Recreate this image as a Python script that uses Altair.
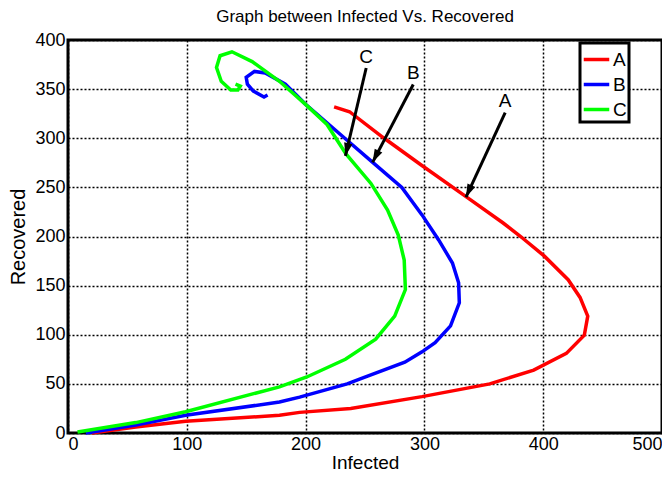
import math
import altair as alt
import pandas as pd

# ---- data ----
series_names = ["A", "B", "C"]

A_x = [20, 57, 99, 178, 195, 238, 298, 355, 392, 419.5, 434.6, 437.5, 431, 421, 401, 381, 366, 338, 297, 265, 237, 224]
A_y = [0, 6, 12, 18, 21, 25, 37, 50, 64, 81, 99.5, 119, 138, 156, 180, 200, 214, 238, 273, 301, 327, 332]

B_x = [15, 57, 99, 178, 195, 235, 246, 283.5, 298, 309, 322, 329.4, 328.8, 323.6, 312, 298, 281, 256, 232, 200, 183, 166, 157, 150, 151, 156, 165, 168]
B_y = [0, 8, 18, 31.5, 36.5, 50, 55, 72, 82.6, 92, 109, 132.5, 153, 173, 196.5, 222, 250, 276, 301, 334.5, 355, 366.5, 368, 362, 355, 348, 342, 344]

C_x = [8, 57, 99, 178, 201, 233.5, 259, 275, 284, 283, 278, 269, 255, 234, 218, 200, 178, 155, 138, 128, 125, 129, 137, 143, 145, 141]
C_y = [1, 10.6, 21.7, 47, 57, 75, 95.5, 119, 146, 176, 201.5, 227, 254, 284, 314, 334.5, 358, 378, 388, 384, 372, 358, 349, 349, 353, 355]

# arrows: label, start (x, y), tip (x, y), label position
arrow_labels = ["A", "B", "C"]
arrow_x1 = [368, 290.6, 251]
arrow_y1 = [326, 354.7, 371.5]
arrow_x2 = [335, 256.4, 233.5]
arrow_y2 = [240, 275.5, 282]
label_x = [368, 290.6, 251]
label_y = [338, 366.5, 383]

colors = ["#FF0000", "#0000FF", "#00FF00"]

XMAX, YMAX = 500, 400
PLOT_W, PLOT_H = 576, 394  # approximate plot size, used only to orient arrowheads

rows = []
for name, xs, ys in zip(series_names, [A_x, B_x, C_x], [A_y, B_y, C_y]):
    for i, (xv, yv) in enumerate(zip(xs, ys)):
        rows.append({"series": name, "x": xv, "y": yv, "i": i})
df = pd.DataFrame(rows)

kx, ky = PLOT_W / XMAX, PLOT_H / YMAX
angles = []
for x1, y1, x2, y2 in zip(arrow_x1, arrow_y1, arrow_x2, arrow_y2):
    a = math.degrees(math.atan2((x2 - x1) * kx, (y2 - y1) * ky)) % 360
    angles.append(a)

arr = pd.DataFrame({
    "label": arrow_labels, "x1": arrow_x1, "y1": arrow_y1,
    "x2": arrow_x2, "y2": arrow_y2, "lx": label_x, "ly": label_y, "ang": angles,
})

xs = alt.Scale(domain=[0, XMAX], nice=False)
ys = alt.Scale(domain=[0, YMAX], nice=False)

lines = alt.Chart(df).mark_line(strokeWidth=3.5).encode(
    x=alt.X("x:Q", scale=xs, title="Infected",
            axis=alt.Axis(values=[0, 100, 200, 300, 400, 500])),
    y=alt.Y("y:Q", scale=ys, title="Recovered",
            axis=alt.Axis(values=[0, 50, 100, 150, 200, 250, 300, 350, 400])),
    color=alt.Color("series:N",
                    scale=alt.Scale(domain=series_names, range=colors),
                    legend=alt.Legend(title=None, orient="none", legendX=512, legendY=3,
                                      symbolType="stroke", symbolStrokeWidth=3.5,
                                      symbolSize=650, labelFontSize=19,
                                      strokeColor="black", fillColor="white",
                                      padding=2, rowPadding=-5, labelOffset=2)),
    order="i:Q",
)

shafts = alt.Chart(arr).mark_rule(color="black", strokeWidth=3).encode(
    x="x1:Q", y="y1:Q", x2="x2:Q", y2="y2:Q"
)

heads = alt.Chart(arr).mark_point(
    shape="M0,0L-0.6,1.85L0.6,1.85Z", filled=True, color="black", size=200, opacity=1
).encode(x="x2:Q", y="y2:Q", angle=alt.Angle("ang:Q", scale=None))

texts = alt.Chart(arr).mark_text(fontSize=19, font="Liberation Sans", color="black").encode(
    x="lx:Q", y="ly:Q", text="label:N"
)

chart = alt.layer(lines, shafts, heads, texts).properties(
    width=654, height=464,
    autosize=alt.AutoSizeParams(type="fit", contains="padding"),
    padding={"left": 0, "top": 0, "right": 0, "bottom": 0},
    title=alt.TitleParams("Graph between Infected Vs. Recovered", fontSize=17,
                          fontWeight="normal", font="Liberation Sans", color="black",
                          offset=5),
).configure_view(stroke="black", strokeWidth=3).configure_axis(
    labelFont="Liberation Sans", titleFont="Liberation Sans",
    labelFontSize=18, titleFontSize=19, titleFontWeight="normal",
    labelColor="black", titleColor="black",
    grid=True, gridColor="black", gridOpacity=1, gridWidth=1.5, gridDash=[2, 2],
    domain=False, ticks=False,
).configure_axisY(titlePadding=6, labelPadding=3, titleFontSize=20).configure_axisX(
    titlePadding=0, labelPadding=2
).configure_legend(
    labelFont="Liberation Sans", labelColor="black", strokeWidth=3
)

chart.save("out.html", embed_options={"renderer": "svg", "actions": False})
